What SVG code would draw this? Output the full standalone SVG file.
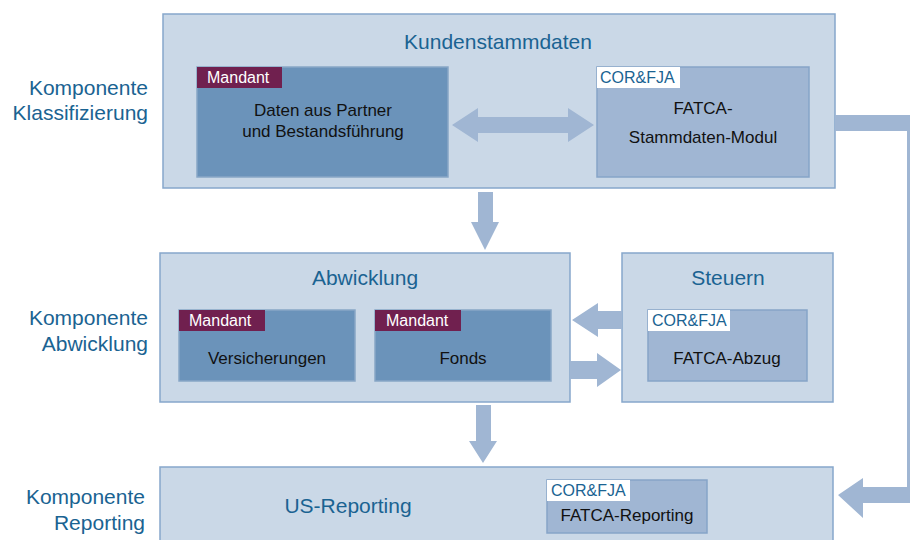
<svg xmlns="http://www.w3.org/2000/svg" width="910" height="540" viewBox="0 0 910 540">
<style>
text{font-family:"Liberation Sans",Arial,sans-serif}
.outer{fill:#cad8e7;stroke:#86a7cb;stroke-width:1.5}
.mand{fill:#6b93ba;stroke:#88a6c6;stroke-width:1.5}
.cor{fill:#a0b6d3;stroke:#86a4c8;stroke-width:1.5}
.mlab{fill:#70204f}
.clab{fill:#ffffff}
.side{font-size:21px;fill:#1a6392;text-anchor:end}
.title{font-size:21px;fill:#1a6392;text-anchor:middle}
.inner{font-size:17px;fill:#111;text-anchor:middle}
.ml{font-size:16px;fill:#fff}
.cl{font-size:16px;fill:#1a6392}
.arr{fill:#a0b6d3}
</style>
<rect width="910" height="540" fill="#fff"/>
<g id="labels">
<text class="side" x="148" y="95">Komponente</text>
<text class="side" x="148" y="120">Klassifizierung</text>
<text class="side" x="148" y="325">Komponente</text>
<text class="side" x="148" y="351">Abwicklung</text>
<text class="side" x="145" y="504">Komponente</text>
<text class="side" x="145" y="530">Reporting</text>
</g>
<g id="kundenstammdaten">
<rect class="outer" x="163" y="14" width="672" height="174"/>
<text class="title" x="498" y="49">Kundenstammdaten</text>
</g>
<g id="daten-partner">
<rect class="mand" x="197" y="67" width="251" height="110"/>
<rect class="mlab" x="197" y="67" width="85" height="21"/>
<text class="ml" x="207" y="83">Mandant</text>
<text class="inner" x="323" y="116">Daten aus Partner</text>
<text class="inner" x="323" y="137">und Bestandsführung</text>
</g>
<g id="fatca-stammdaten">
<rect class="cor" x="597" y="67" width="212" height="110"/>
<rect class="clab" x="597" y="67" width="83" height="21"/>
<text class="cl" x="600" y="83">COR&amp;FJA</text>
<text class="inner" x="703" y="114">FATCA-</text>
<text class="inner" x="703" y="143">Stammdaten-Modul</text>
</g>
<g id="abwicklung">
<rect class="outer" x="160" y="253" width="410" height="149"/>
<text class="title" x="365" y="285">Abwicklung</text>
</g>
<g id="versicherungen">
<rect class="mand" x="179" y="310" width="176" height="71"/>
<rect class="mlab" x="179" y="310" width="86" height="21"/>
<text class="ml" x="189" y="326">Mandant</text>
<text class="inner" x="267" y="364">Versicherungen</text>
</g>
<g id="fonds">
<rect class="mand" x="375" y="310" width="176" height="71"/>
<rect class="mlab" x="375" y="310" width="86" height="21"/>
<text class="ml" x="386" y="326">Mandant</text>
<text class="inner" x="463" y="364">Fonds</text>
</g>
<g id="steuern">
<rect class="outer" x="622" y="253" width="211" height="149"/>
<text class="title" x="728" y="285">Steuern</text>
</g>
<g id="fatca-abzug">
<rect class="cor" x="648" y="310" width="159" height="71"/>
<rect class="clab" x="648" y="310" width="82" height="21"/>
<text class="cl" x="652" y="326">COR&amp;FJA</text>
<text class="inner" x="727" y="364">FATCA-Abzug</text>
</g>
<g id="us-reporting">
<rect class="outer" x="160" y="467" width="673" height="80"/>
<text class="title" x="348" y="513">US-Reporting</text>
</g>
<g id="fatca-reporting">
<rect class="cor" x="547" y="480" width="160" height="53"/>
<rect class="clab" x="547" y="480" width="83" height="21"/>
<text class="cl" x="551" y="496">COR&amp;FJA</text>
<text class="inner" x="627" y="521">FATCA-Reporting</text>
</g>
<g id="connectors">
<path class="arr" d="M452 125 L478 108 L478 117 L568 117 L568 108 L594 125 L568 142 L568 133 L478 133 L478 142 Z"/>
<path class="arr" d="M478 192 L493 192 L493 222 L499 222 L485 250 L471 222 L478 222 Z"/>
<path class="arr" d="M622 311 L598 311 L598 303 L572 320 L598 337 L598 329 L622 329 Z"/>
<path class="arr" d="M570 361 L597 361 L597 353 L621 370 L597 387 L597 379 L570 379 Z"/>
<path class="arr" d="M476 405 L491 405 L491 441 L497 441 L483 463 L469 441 L476 441 Z"/>
<path class="arr" d="M835 115 L924 115 L924 503 L863 503 L863 518 L838 495 L863 478 L863 487 L907 487 L907 131 L835 131 Z"/>
</g>
</svg>
